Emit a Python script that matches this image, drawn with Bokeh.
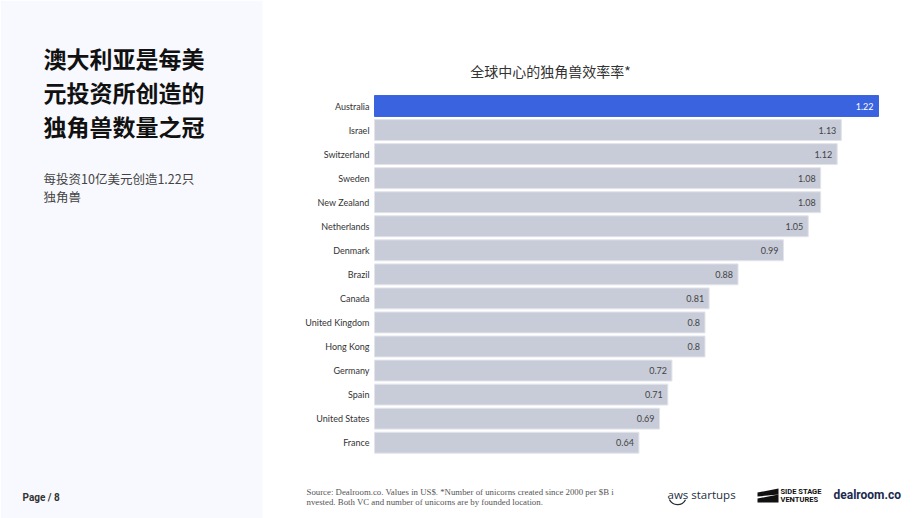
from bokeh.plotting import figure
from bokeh.models import Range1d, Label, BoxAnnotation, PolyAnnotation, ColumnDataSource
from bokeh.embed import file_html
from bokeh.resources import INLINE

countries = ["Australia", "Israel", "Switzerland", "Sweden", "New Zealand", "Netherlands",
             "Denmark", "Brazil", "Canada", "United Kingdom", "Hong Kong", "Germany",
             "Spain", "United States", "France"]
values = [1.22, 1.13, 1.12, 1.08, 1.08, 1.05, 0.99, 0.88, 0.81, 0.8, 0.8, 0.72, 0.71, 0.69, 0.64]
value_labels = ["1.22", "1.13", "1.12", "1.08", "1.08", "1.05", "0.99", "0.88", "0.81",
                "0.8", "0.8", "0.72", "0.71", "0.69", "0.64"]
highlight = "Australia"

title_lines = ["澳大利亚是每美", "元投资所创造的", "独角兽数量之冠"]
subtitle_lines = ["每投资10亿美元创造1.22只", "独角兽"]
chart_title = "全球中心的独角兽效率率*"
source_lines = ["Source: Dealroom.co. Values in US$. *Number of unicorns created since 2000 per $B i",
                "nvested. Both VC and number of unicorns are by founded location."]

W, H = 920, 518
X0, XK = 374.0, 504.0 / 1.22      # bar baseline pixel, px per unit
Y0, YK = 105.5, 24.05             # first row centre pixel, row pitch

p = figure(width=W, height=H, output_backend="svg", toolbar_location=None,
           x_range=Range1d(-X0 / XK, (W - X0) / XK),
           y_range=Range1d((H - Y0) / YK, -Y0 / YK),
           x_axis_type=None, y_axis_type=None, min_border=0)
p.outline_line_color = None
p.grid.visible = False
p.background_fill_color = "white"
p.border_fill_color = "white"

# left panel
p.add_layout(BoxAnnotation(left=0, right=262, bottom=0, top=H, left_units="screen",
                           right_units="screen", bottom_units="screen", top_units="screen",
                           fill_color="#f8f9fe", fill_alpha=1.0, line_color=None, level="underlay"))

ys = list(range(len(countries)))
fills = ["#3a63e0" if c == highlight else "#c8ccd8" for c in countries]
lines = ["#3a63e0" if c == highlight else "#e2e4ea" for c in countries]
vcols = ["white" if c == highlight else "#444444" for c in countries]
src = ColumnDataSource(dict(y=ys, v=values, c=countries, lab=value_labels,
                            fill=fills, line=lines, vc=vcols, zero=[0] * len(ys)))

p.hbar(y="y", left=0, right="v", height=0.87, fill_color="fill", line_color="line",
       line_width=1, source=src)
p.text(x="zero", y="y", text="c", x_offset=-5, text_align="right", text_baseline="middle",
       text_font_size="9px", text_color="#333333", text_font={"value": "Lato"}, source=src)
p.text(x="v", y="y", text="lab", x_offset=-5, text_align="right", text_baseline="middle",
       text_font_size="9px", text_color="vc", text_font={"value": "Lato"}, source=src)

def lab(x, ytop, text, **kw):
    p.add_layout(Label(x=x, y=H - ytop, x_units="screen", y_units="screen", text=text, **kw))

for i, t in enumerate(title_lines):
    lab(43, 57 + i * 34, t, text_font="Noto Sans CJK SC", text_font_size="23px",
        text_font_style="bold", text_color="#111111", text_baseline="middle")
for i, t in enumerate(subtitle_lines):
    lab(43, 178 + i * 18, t, text_font="Noto Sans CJK SC", text_font_size="12.5px",
        text_color="#444444", text_baseline="middle")

lab(550, 70, chart_title, text_font="Noto Sans CJK SC", text_font_size="14px",
    text_color="#333333", text_align="center", text_baseline="middle")

for i, t in enumerate(source_lines):
    lab(306, 491 + i * 10, t, text_font="Liberation Serif", text_font_size="8.8px",
        text_color="#555555", text_baseline="middle")

lab(22, 497, "Page / 8", text_font="Roboto", text_font_size="10px", text_font_style="bold",
    text_color="#333333", text_baseline="middle")

# logos
lab(667, 494, "aws startups", text_font="Open Sans", text_font_size="11.5px",
    text_color="#232f3e", text_baseline="middle")
p.arc(x=[(677 - X0) / XK], y=[(495 - Y0) / YK], radius=0.022, start_angle=3.6, end_angle=5.8,
      line_color="#232f3e", line_width=1.3, direction="anticlock")
p.add_layout(PolyAnnotation(xs=[757, 778, 778, 757], ys=[H - 492, H - 488, H - 494, H - 496],
                            xs_units="screen", ys_units="screen", fill_color="#111111",
                            fill_alpha=1, line_color=None))
p.add_layout(PolyAnnotation(xs=[757, 778, 778, 757], ys=[H - 498, H - 494, H - 502, H - 502],
                            xs_units="screen", ys_units="screen", fill_color="#111111",
                            fill_alpha=1, line_color=None))
lab(780, 491, "SIDE STAGE", text_font="Roboto", text_font_size="7.5px",
    text_font_style="bold", text_color="#111111", text_baseline="middle")
lab(780, 499, "VENTURES", text_font="Roboto", text_font_size="7.5px",
    text_font_style="bold", text_color="#111111", text_baseline="middle")
lab(833, 494, "dealroom.co", text_font="Roboto", text_font_size="12px",
    text_font_style="bold", text_color="#1b2a4e", text_baseline="middle")

open("out.html", "w").write(file_html(p, INLINE))
